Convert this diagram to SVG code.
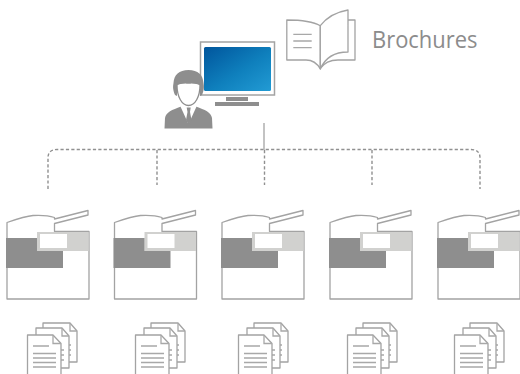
<svg xmlns="http://www.w3.org/2000/svg" width="520" height="374" viewBox="0 0 520 374">
<style>
.ol{fill:#fff;stroke:#a3a3a3;stroke-width:1.3;stroke-linejoin:round}
.ln{fill:none;stroke:#a8a8a8;stroke-width:1.3}
.dash{fill:none;stroke:#909090;stroke-width:1.400;stroke-dasharray:3.200 2.200}
.dark{fill:#8e8e8e}
.light{fill:#d1d1cf}
</style>
<defs>
<linearGradient id="scr" x1="0" y1="0" x2="1" y2="1">
<stop offset="0" stop-color="#00559c"/><stop offset="0.55" stop-color="#0f80bd"/><stop offset="1" stop-color="#229bd4"/>
</linearGradient>
<g id="printer">
<path class="ol" d="M7 222.500C17 219 26 216 33 215.500C42 215 50 216 54.500 217.500V219L88 210.500V215L54.500 223.500V231.500H89V299H7Z"/>
<path class="light" d="M37 232H88.500V251H37Z"/>
<path class="dark" d="M6 238H37V251H63V268H6Z"/>
<path fill="#fff" d="M40 234H67V248H40Z"/>
</g>
<g id="docs">
<path class="ol" d="M43 323H70L77 331V362H43Z"/>
<path class="ln" d="M70 323V331H77"/>
<path class="ln" d="M65 345H71M65 350H71M65 355H71"/>
<path class="ol" d="M36 328H62L69 336V368H36Z"/>
<path class="ln" d="M62 328V336H69"/>
<path class="ln" d="M58 350H64M58 355H64M58 360H64"/>
<path class="ol" d="M27.500 335H53L61 343.500V375H27.500Z"/>
<path class="ln" d="M53 335V343.500H61"/>
<path class="ln" d="M33 346H49M33 353.500H56M33 358H56M33 362.500H56M33 367H56"/>
</g>
</defs>
<g id="connectors">
<path class="dash" d="M48 189V158Q48 149.500 57 149.500H471Q480 149.500 480 158V189"/>
<path class="dash" d="M157 150V185M264.500 150V185M372 150V185"/>
<path fill="none" stroke="#a3a3a3" stroke-width="1.300" d="M264 123V150"/>
</g>
<g id="computer">
<rect x="200.500" y="42" width="74" height="53" fill="#fff" stroke="#a3a3a3" stroke-width="1.500"/>
<rect x="204" y="47" width="67" height="44" rx="1.500" fill="url(#scr)"/>
<rect class="dark" x="226" y="97" width="22" height="4"/>
<rect class="dark" x="215" y="102" width="44" height="4"/>
</g>
<g id="user">
<path class="dark" d="M164.500 128.500L165 118C166 112 172 110 181 106.500H196C205 110 211 112 212 118L212.500 128.500Z"/>
<path fill="#fff" d="M180 105.500H197L189 123H188Z"/>
<path class="dark" d="M186.700 107.500H190.700L190 112 191.500 120 188.700 124.500 186 120 187.500 112Z"/>
<path class="dark" d="M175 95C172.500 89 173 86 173.500 83C174 75 179 70 188.500 70C198 70 203 75 203.500 83C204 86 204.500 89 202 95L200 96V85H177V96Z"/>
<path fill="#fff" stroke="#8e8e8e" stroke-width="1.300" d="M177 85C177 97 182 105.500 188.500 105.500C195 105.500 200 97 200 85C197 82.500 193 83 188.500 83C184 83 180 82.500 177 85Z"/>
</g>
<g id="brochure">
<path class="ol" d="M348 20H355V60H338C330 60 324 63 320.300 68.500Z"/>
<path class="ol" d="M320.300 25.700C313 21.500 304 20 286.800 20V60H306C312 60 317 63 320.300 69Z"/>
<path class="ol" d="M320.300 25.700C327 17 336 12 348 10V52C335 52 325 58 320.300 69Z"/>
<path class="ln" d="M293.300 34.300H311.700M293.300 41H311.700M293.300 47.700H311.700"/>
<text x="372" y="48.300" font-family="'Open Sans','Noto Sans',sans-serif" font-size="23" fill="#8c8c8c" textLength="105.500" lengthAdjust="spacingAndGlyphs">Brochures</text>
</g>
<g id="printer1"><use href="#printer"/></g>
<g id="printer2"><use href="#printer" x="107.500"/></g>
<g id="printer3"><use href="#printer" x="215"/></g>
<g id="printer4"><use href="#printer" x="323"/></g>
<g id="printer5"><use href="#printer" x="431"/></g>
<g id="docs1"><use href="#docs"/></g>
<g id="docs2"><use href="#docs" x="108"/></g>
<g id="docs3"><use href="#docs" x="211"/></g>
<g id="docs4"><use href="#docs" x="320"/></g>
<g id="docs5"><use href="#docs" x="427"/></g>
</svg>
